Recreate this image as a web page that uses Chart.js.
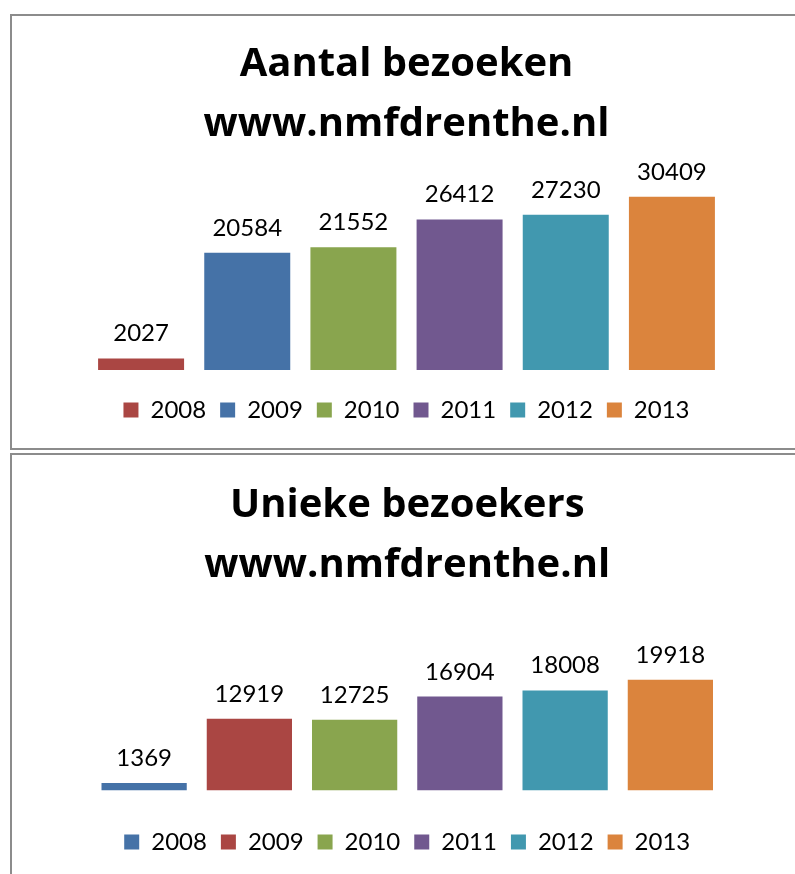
<!DOCTYPE html>
<html>
<head>
<meta charset="utf-8">
<script src="https://cdn.jsdelivr.net/npm/chart.js@4.4.1/dist/chart.umd.min.js"></script>
<style>
  html, body { margin: 0; padding: 0; background: #fff; overflow: hidden; }
  .box { position: absolute; border: 2px solid #8c8c8c; box-sizing: border-box; }
  #box1 { left: 10px; top: 14px; width: 800px; height: 436px; }
  #box2 { left: 10px; top: 453px; width: 800px; height: 440px; }
  .wrap { position: absolute; left: 0; top: 0; width: 783px; }
  #box1 .wrap { height: 432px; }
  #box2 .wrap { height: 419px; }
</style>
</head>
<body>
<div class="box" id="box1"><div class="wrap"><canvas id="c1"></canvas></div></div>
<div class="box" id="box2"><div class="wrap"><canvas id="c2"></canvas></div></div>
<script>
  // jaartallen en waarden
  var YEARS = ['2008', '2009', '2010', '2011', '2012', '2013'];
  var BEZOEKEN = [2027, 20584, 21552, 26412, 27230, 30409];
  var UNIEKE_BEZOEKERS = [1369, 12919, 12725, 16904, 18008, 19918];
  var TITLE_1 = ['Aantal bezoeken', 'www.nmfdrenthe.nl'];
  var TITLE_2 = ['Unieke bezoekers', 'www.nmfdrenthe.nl'];

  var BLUE = '#4572A7', RED = '#AA4643', GREEN = '#89A54E',
      PURPLE = '#71588F', TEAL = '#4198AF', ORANGE = '#DB843D';
  var COLORS_1 = [RED, BLUE, GREEN, PURPLE, TEAL, ORANGE];
  var COLORS_2 = [BLUE, RED, GREEN, PURPLE, TEAL, ORANGE];

  var FONT = 'Lato, "Open Sans", sans-serif';
  var TITLE_FONT = '"Open Sans", Lato, sans-serif';

  // waarde boven elke staaf
  var valueLabels = {
    id: 'valueLabels',
    afterDatasetsDraw: function (chart) {
      var ctx = chart.ctx;
      ctx.save();
      ctx.font = '24px ' + FONT;
      ctx.fillStyle = '#000';
      ctx.textAlign = 'center';
      ctx.textBaseline = 'alphabetic';
      chart.data.datasets.forEach(function (ds, i) {
        var meta = chart.getDatasetMeta(i);
        meta.data.forEach(function (bar, j) {
          ctx.fillText(String(ds.data[j]), bar.x, bar.y - 17);
        });
      });
      ctx.restore();
    }
  };

  function makeChart(id, title, values, colors, yMax, pad) {
    var datasets = YEARS.map(function (y, i) {
      return { label: y, data: [values[i]], backgroundColor: colors[i], borderWidth: 0 };
    });
    return new Chart(document.getElementById(id), {
      type: 'bar',
      data: { labels: [''], datasets: datasets },
      plugins: [valueLabels],
      options: {
        responsive: true,
        maintainAspectRatio: false,
        animation: false,
        categoryPercentage: 1,
        barPercentage: 0.81,
        layout: { padding: { left: pad.left, right: pad.right, top: 0, bottom: pad.bottom } },
        plugins: {
          title: {
            display: true,
            text: title,
            color: '#000',
            font: { family: TITLE_FONT, size: 40, weight: 'bold', lineHeight: 1.5 },
            padding: { top: pad.titleTop, bottom: pad.titleBottom }
          },
          legend: {
            position: 'bottom',
            labels: {
              color: '#000',
              boxWidth: 15,
              boxHeight: 15,
              padding: 14,
              font: { family: FONT, size: 24 }
            }
          },
          tooltip: { enabled: false }
        },
        scales: {
          x: {
            display: true,
            grid: { display: false, drawTicks: false },
            border: { display: false },
            ticks: { display: false },
            title: { display: true, text: ' ', font: { size: 10, lineHeight: 1 }, padding: { top: pad.axisGap, bottom: 0 } }
          },
          y: { display: false, min: 0, max: yMax }
        }
      }
    });
  }

  makeChart('c1', TITLE_1, BEZOEKEN, COLORS_1, 35000,
    { left: 76, right: 70, bottom: 16, titleTop: 19, titleBottom: 15.5, axisGap: 4 });
  makeChart('c2', TITLE_2, UNIEKE_BEZOEKERS, COLORS_2, 25000,
    { left: 79.5, right: 72, bottom: 10, titleTop: 21, titleBottom: 55.5, axisGap: 15.5 });
</script>
</body>
</html>
